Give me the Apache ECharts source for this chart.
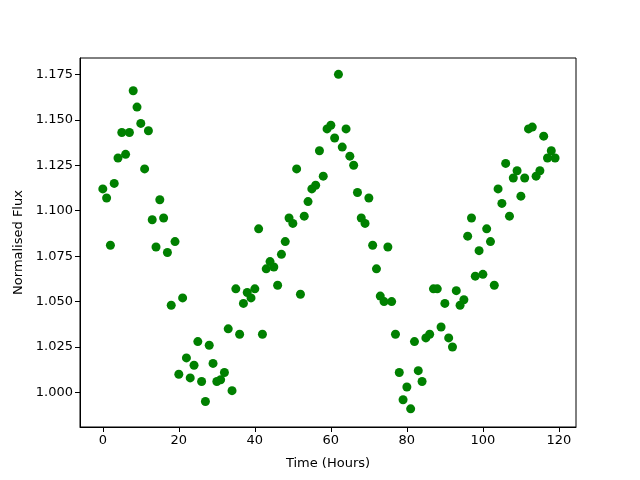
<!DOCTYPE html>
<html>
<head>
<meta charset="utf-8">
<script src="https://cdn.jsdelivr.net/npm/echarts@6/dist/echarts.min.js"></script>
<style>
    html, body { margin: 0; padding: 0; background: #fff; }
    #chart { width: 640px; height: 480px; }
</style>
</head>
<body>
<div id="chart"></div>
<script>
// hours of observation, one reading per hour
var hours = [];
for (var h = 0; h < 120; h++) hours.push(h);

// normalised flux
var flux = [
    1.112, 1.107, 1.081, 1.115, 1.129, 1.143, 1.131, 1.143, 1.166, 1.157,
    1.148, 1.123, 1.144, 1.095, 1.080, 1.106, 1.096, 1.077, 1.048, 1.083,
    1.010, 1.052, 1.019, 1.008, 1.015, 1.028, 1.006, 0.995, 1.026, 1.016,
    1.006, 1.007, 1.011, 1.035, 1.001, 1.057, 1.032, 1.049, 1.055, 1.052,
    1.057, 1.090, 1.032, 1.068, 1.072, 1.069, 1.059, 1.076, 1.083, 1.096,
    1.093, 1.123, 1.054, 1.097, 1.105, 1.112, 1.114, 1.133, 1.119, 1.145,
    1.147, 1.140, 1.175, 1.135, 1.145, 1.130, 1.125, 1.110, 1.096, 1.093,
    1.107, 1.081, 1.068, 1.053, 1.050, 1.080, 1.050, 1.032, 1.011, 0.996,
    1.003, 0.991, 1.028, 1.012, 1.006, 1.030, 1.032, 1.057, 1.057, 1.036,
    1.049, 1.030, 1.025, 1.056, 1.048, 1.051, 1.086, 1.096, 1.064, 1.078,
    1.065, 1.090, 1.083, 1.059, 1.112, 1.104, 1.126, 1.097, 1.118, 1.122,
    1.108, 1.118, 1.145, 1.146, 1.119, 1.122, 1.141, 1.129, 1.133, 1.129
];

var xTicks = [0, 20, 40, 60, 80, 100, 120];
var yTicks = [1.000, 1.025, 1.050, 1.075, 1.100, 1.125, 1.150, 1.175];

/**
 * pair each hour with its flux reading
 */
function buildPoints() {
    var pts = [];
    for (var i = 0; i < hours.length; i++) {
        pts.push([hours[i], flux[i]]);
    }
    return pts;
}

var font = 'DejaVu Sans';
var myChart = echarts.init(document.getElementById('chart'), null, { renderer: 'canvas' });
var option = {
    animation: false,
    backgroundColor: '#ffffff',
    grid: {
        left: 80, right: 64, top: 58, bottom: 53,
        show: true, borderColor: '#000', borderWidth: 1, backgroundColor: 'transparent'
    },
    xAxis: {
        type: 'value',
        min: -6.0, max: 124.5,
        name: 'Time (Hours)',
        nameLocation: 'middle',
        nameGap: 30,
        nameTextStyle: { color: '#000', fontFamily: font, fontSize: 13 },
        axisLine: { show: true, onZero: false, lineStyle: { color: '#000', width: 1 } },
        axisTick: { show: true, length: 5, customValues: xTicks, lineStyle: { color: '#000' } },
        axisLabel: { customValues: xTicks, color: '#000', fontFamily: font, fontSize: 13, margin: 7 },
        splitLine: { show: false }
    },
    yAxis: {
        type: 'value',
        min: 0.981, max: 1.184,
        name: 'Normalised Flux',
        nameLocation: 'middle',
        nameGap: 55,
        nameRotate: 90,
        nameTextStyle: { color: '#000', fontFamily: font, fontSize: 13 },
        axisLine: { show: true, onZero: false, lineStyle: { color: '#000', width: 1 } },
        axisTick: { show: true, length: 5, customValues: yTicks, lineStyle: { color: '#000' } },
        axisLabel: {
            customValues: yTicks, color: '#000', fontFamily: font, fontSize: 13, margin: 7,
            formatter: function (v) { return v.toFixed(3); }
        },
        splitLine: { show: false }
    },
    series: [{
        type: 'scatter',
        data: buildPoints(),
        symbol: 'circle',
        symbolSize: 9,
        itemStyle: { color: '#008000', opacity: 1 }
    }]
};
myChart.setOption(option, true);
</script>
</body>
</html>
